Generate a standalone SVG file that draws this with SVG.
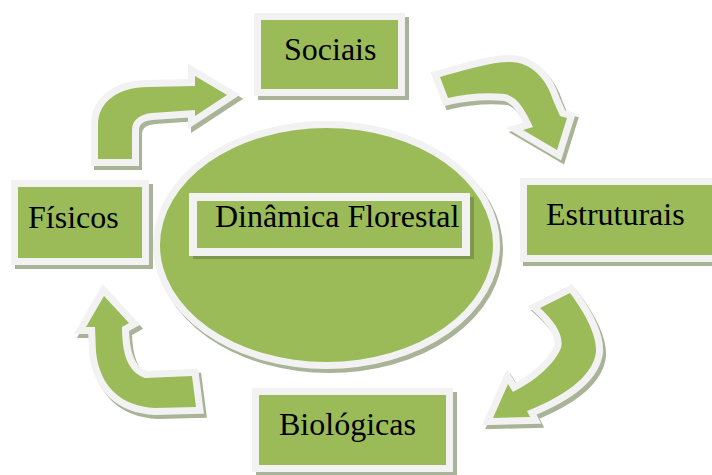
<svg xmlns="http://www.w3.org/2000/svg" width="712" height="475" viewBox="0 0 712 475">
<style>
.g{fill:#9BBB59}
.w{stroke:#F2F2F2;stroke-width:14;paint-order:stroke;stroke-linejoin:miter;stroke-miterlimit:4}
.sh{fill:#A9B397;stroke:#A9B397;stroke-width:14;stroke-linejoin:miter}
.shd{fill:#7F9650}
.t{font-family:"Liberation Serif","Times New Roman",serif;font-size:32px;fill:#000}
</style>
<defs>
<path id="a1" d="M98,159 L98,125 C98,102 118,87 148,87 L195,86 L195,76 L227,95 L195,116 L195,110 L152,113 C140,114 132,120 132,130 L132,159 Z"/>
<path id="a2" d="M440,77 C465,70 490,62 510,62 C532,62 547,80 553,100 L560,116 L567,118 L557,150 L523,130 L533,127 C525,110 518,97 505,94 C485,92 465,94 448,98 Z"/>
<path id="a3" d="M540,308 L570,293 C585,313 597,335 596,352 C593,378 560,398 527,411 L530,417 L493,418 L508,384 L513,392 C532,382 552,368 561,348 C564,335 555,322 540,308 Z"/>
<path id="a4" d="M104,296 L129,323 L122,327 C122,352 127,372 145,378 L192,376 L196,407 L155,408 C122,406 100,388 96,352 L95,327 L86,327 Z"/>
</defs>
<rect width="712" height="475" fill="#fff"/>
<g id="connectors">
<use href="#a1" class="sh" transform="translate(3,4)"/>
<use href="#a1" class="g w"/>
<use href="#a2" class="sh" transform="translate(3,4)"/>
<use href="#a2" class="g w"/>
<use href="#a3" class="sh" transform="translate(3,4)"/>
<use href="#a3" class="g w"/>
<use href="#a4" class="sh" transform="translate(3,4)"/>
<use href="#a4" class="g w"/>
</g>
<g id="center">
<ellipse cx="329.5" cy="249" rx="166.5" ry="117" class="sh"/>
<ellipse cx="326.5" cy="245" rx="166.5" ry="117" class="g w"/>
<rect x="193" y="197" width="281" height="62" class="shd"/>
<rect x="197" y="201" width="265" height="47" class="g w" style="stroke-width:16"/>
<text x="215" y="227" class="t">Dinâmica Florestal</text>
</g>
<g id="sociais">
<rect x="265" y="24" width="137" height="69" class="sh"/>
<rect x="261" y="20" width="137" height="69" class="g w"/>
<text x="284" y="60" class="t">Sociais</text>
</g>
<g id="fisicos">
<rect x="22" y="191" width="124" height="71" class="sh"/>
<rect x="18" y="187" width="124" height="71" class="g w"/>
<text x="28" y="228" class="t">Físicos</text>
</g>
<g id="estruturais">
<rect x="530" y="189" width="200" height="70" class="sh"/>
<rect x="527" y="185" width="200" height="70" class="g w"/>
<text x="546" y="225" class="t">Estruturais</text>
</g>
<g id="biologicas">
<rect x="263" y="399" width="187" height="70" class="sh"/>
<rect x="259" y="395" width="187" height="70" class="g w"/>
<text x="279" y="435" class="t">Biológicas</text>
</g>
</svg>
